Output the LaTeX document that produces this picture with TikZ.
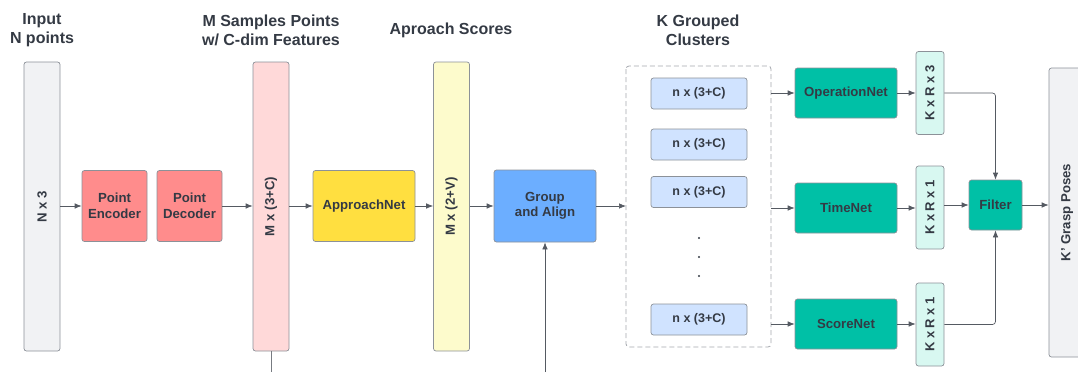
\documentclass[tikz,border=0pt]{standalone}
\usepackage{fontspec}
\setmainfont{Liberation Sans}
\usepackage{xcolor}
\usepackage{tikz}
\usetikzlibrary{arrows.meta,positioning,calc}
\definecolor{gpedge}{RGB}{140,145,152}
\definecolor{gpline}{RGB}{85,90,98}
\definecolor{gpink}{RGB}{52,58,68}
\definecolor{gpgrey}{RGB}{241,242,244}
\definecolor{gpenc}{RGB}{255,140,140}
\definecolor{gppink}{RGB}{255,217,217}
\definecolor{gpyel}{RGB}{255,223,64}
\definecolor{gpcream}{RGB}{253,251,204}
\definecolor{gpblue}{RGB}{108,174,255}
\definecolor{gpclu}{RGB}{208,227,255}
\definecolor{gpteal}{RGB}{0,192,166}
\definecolor{gpmint}{RGB}{216,248,241}
\tikzset{
  gpbox/.style={
    draw=gpedge, line width=0.7pt, rounded corners=2.5pt,
    align=center, inner sep=0pt, text=gpink,
    font=\bfseries\fontsize{13.2}{15.5}\selectfont
  },
  enc/.style={gpbox, fill=gpenc, minimum width=65, minimum height=71},
  net/.style={gpbox, fill=gpteal, minimum width=102, minimum height=50},
  bar/.style={gpbox, rotate=90, minimum width=289, minimum height=36},
  clu/.style={gpbox, fill=gpclu, minimum width=96, minimum height=31,
    font=\bfseries\fontsize{12.5}{14}\selectfont},
  tag/.style={gpbox, fill=gpmint, rotate=90, minimum width=83, minimum height=28,
    font=\bfseries\fontsize{13}{15}\selectfont},
  grp/.style={draw=gpedge!80, dashed, dash pattern=on 5pt off 3pt,
    line width=0.8pt, rounded corners=3pt},
  ttl/.style={text=gpink, align=center, font=\bfseries\fontsize{16}{19}\selectfont},
  arr/.style={-{Latex[length=7pt,width=5.5pt]}, draw=gpline, line width=0.7pt},
  lnk/.style={draw=gpline!80, line width=0.7pt}
}
\begin{document}
\begin{tikzpicture}[x=1pt, y=-1pt]
  \clip (0,0) rectangle (1078,372);
  \useasboundingbox (0,0) rectangle (1078,372);
  % titles
  \node[ttl] (tin) at (42,30) {Input\\N points};
  \node[ttl] (tsm) at (271,30) {M Samples Points\\w/ C-dim Features};
  \node[ttl] (tap) at (451,30) {Aproach Scores};
  \node[ttl] (tkg) at (698,30) {K Grouped\\Clusters};
  % feature bars
  \node[bar, fill=gpgrey] (nin) at (42,206.5) {N x 3};
  \node[bar, fill=gppink] (mfe) at (271,206.5) {M x (3+C)};
  \node[bar, fill=gpcream] (msc) at (451.5,206.5) {M x (2+V)};
  \node[bar, fill=gpgrey, minimum width=289] (kgp) at (1067,212.5) {K' Grasp Poses};
  % encoder / decoder
  \node[enc] (penc) at (114.5,206) {Point\\Encoder};
  \node[enc] (pdec) at (189.5,206) {Point\\Decoder};
  \node[gpbox, fill=gpyel, minimum width=102, minimum height=71] (apn) at (364,206) {ApproachNet};
  \node[gpbox, fill=gpblue, minimum width=102, minimum height=72] (gal) at (545,206) {Group\\and Align};
  % grouped clusters
  \draw[grp] (626,66) rectangle (771,347);
  \coordinate (cin) at (626,206);
  \node[clu] (c1) at (699,93.5) {n x (3+C)};
  \node[clu] (c2) at (699,144.5) {n x (3+C)};
  \node[clu] (c3) at (699,192) {n x (3+C)};
  \node[clu] (c4) at (699,319.5) {n x (3+C)};
  \foreach \y in {238,257,276}
    \fill[gpink] (699,\y) circle (1.2pt);
  % heads
  \node[net] (opn) at (846,93) {OperationNet};
  \node[net] (tmn) at (846,208) {TimeNet};
  \node[net] (scn) at (846,324) {ScoreNet};
  \node[tag] (t1) at (930,93) {K x R x 3};
  \node[tag] (t2) at (930,207.5) {K x R x 1};
  \node[tag] (t3) at (930,324.5) {K x R x 1};
  \node[gpbox, fill=gpteal, minimum width=53, minimum height=50] (flt) at (995.5,205) {Filter};
  % connectors
  \draw[arr] (nin.south |- penc.west) -- (penc.west);
  \draw[arr] (pdec.east) -- (mfe.north |- pdec.east);
  \draw[arr] (mfe.south |- apn.west) -- (apn.west);
  \draw[arr] (apn.east) -- (msc.north |- apn.east);
  \draw[arr] (msc.south |- gal.west) -- (gal.west);
  \draw[arr] (gal.east) -- (cin);
  \coordinate (mdn) at (271,372);
  \coordinate (gup) at (545,372);
  \draw[lnk] (mfe.west) -- (mdn);
  \draw[arr] (gup) -- (gal.south);
  \draw[arr] (771,93) -- (opn.west);
  \draw[arr] (771,208) -- (tmn.west);
  \draw[arr] (771,324) -- (scn.west);
  \draw[arr] (opn.east) -- (t1.north |- opn.east);
  \draw[arr] (tmn.east) -- (t2.north |- tmn.east);
  \draw[arr] (scn.east) -- (t3.north |- scn.east);
  \draw[arr, rounded corners=3pt] (t1.south) -| (flt.north);
  \draw[arr] (t2.south |- flt.west) -- (flt.west);
  \draw[arr, rounded corners=3pt] (t3.south) -| (flt.south);
  \draw[arr] (flt.east) -- (kgp.north |- flt.east);
\end{tikzpicture}
\end{document}
